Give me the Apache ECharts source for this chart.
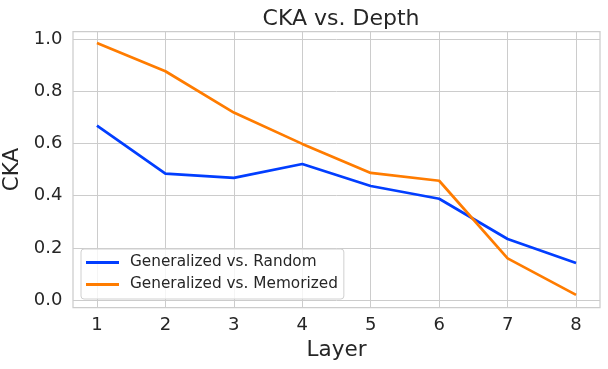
<meta charset="utf-8">
<script src="https://cdn.jsdelivr.net/npm/echarts/dist/echarts.min.js"></script>
<div id="main" style="position:absolute;left:0;top:0;width:608px;height:369px"></div>

<script type="text/javascript">
const layers = [1, 2, 3, 4, 5, 6, 7, 8]
const yTicks = [0, 0.2, 0.4, 0.6, 0.8, 1.0]
const randomCka = [0.668, 0.484, 0.468, 0.521, 0.437, 0.388, 0.234, 0.142]
const memorizedCka = [0.984, 0.876, 0.718, 0.598, 0.487, 0.457, 0.160, 0.020]

const txt = '#262626'
const font = 'DejaVu Sans'

let myChart = echarts.init(main)

const pts = arr => layers.map((x, i) => [x, arr[i]])

myChart.setOption({
  backgroundColor: '#fff',
  animation: false,
  textStyle: {fontFamily: font, color: txt},
  title: {
    text: 'CKA vs. Depth',
    left: 336, top: 3, textAlign: 'center',
    textStyle: {fontFamily: font, fontSize: 22, fontWeight: 'normal', color: txt}
  },
  grid: {
    left: 73, right: 8, top: 31.5, bottom: 61.5,
    outerBoundsMode: 'none', containLabel: false,
    show: true, borderColor: '#cccccc', borderWidth: 1.25, backgroundColor: '#fff'
  },
  legend: {
    orient: 'vertical',
    left: 81, top: 249,
    icon: 'rect', itemWidth: 33, itemHeight: 3, itemGap: 7,
    padding: [6, 6, 7, 5],
    backgroundColor: 'rgba(255,255,255,0.8)',
    borderColor: '#d0d0d0', borderWidth: 1, borderRadius: 3,
    textStyle: {fontFamily: font, fontSize: 15.3, color: txt, padding: [0, 0, 0, 6]},
    data: ['Generalized vs. Random', 'Generalized vs. Memorized']
  },
  xAxis: {
    type: 'value', min: 0.65, max: 8.35,
    name: 'Layer', nameLocation: 'middle', nameGap: 31,
    nameTextStyle: {fontFamily: font, fontSize: 21.5, color: txt},
    axisLine: {show: false},
    axisTick: {show: false, customValues: layers},
    axisLabel: {customValues: layers, fontFamily: font, fontSize: 18, color: txt, margin: 9},
    splitLine: {show: true, lineStyle: {color: '#cccccc', width: 1}}
  },
  yAxis: {
    type: 'value', min: -0.0282, max: 1.0282,
    name: 'CKA', nameLocation: 'middle', nameGap: 43,
    nameTextStyle: {fontFamily: font, fontSize: 21.5, color: txt},
    axisLine: {show: false},
    axisTick: {show: false, customValues: yTicks},
    axisLabel: {customValues: yTicks, formatter: v => v.toFixed(1), fontFamily: font, fontSize: 18, color: txt, margin: 10.5},
    splitLine: {show: true, lineStyle: {color: '#cccccc', width: 1}}
  },
  series: [
    {
      name: 'Generalized vs. Random', type: 'line', data: pts(randomCka),
      symbol: 'none', color: '#023eff', lineStyle: {width: 2.7}
    },
    {
      name: 'Generalized vs. Memorized', type: 'line', data: pts(memorizedCka),
      symbol: 'none', color: '#ff7c00', lineStyle: {width: 2.7}
    }
  ]
})
</script>
